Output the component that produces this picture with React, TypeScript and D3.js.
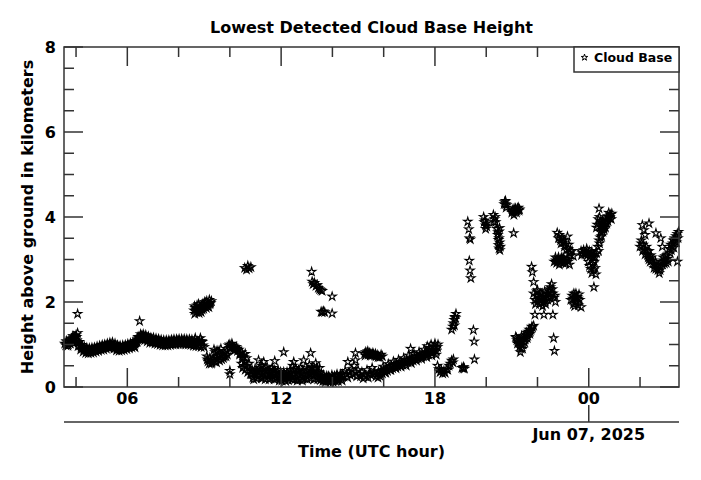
import React from 'react';
import * as d3 from 'd3';

type Pt = [number, number]; // [hour UTC since Jun 06 00:00, height km]

const lowMorning: Pt[] = [
  [3.56,1.02],[3.6,0.98],[3.65,1.05],[3.7,1.0],[3.75,1.03],[3.8,1.08],[3.85,1.12],[3.88,1.2],[3.92,1.05],[3.95,1.15],
  [4.0,1.22],[4.03,1.1],[4.06,1.27],[4.06,1.72],[4.1,1.05],[4.15,0.98],[4.2,0.95],[4.25,0.93],[4.3,0.9],[4.35,0.88],
  [4.4,0.87],[4.45,0.86],[4.5,0.85],[4.55,0.86],[4.6,0.86],[4.65,0.87],[4.7,0.88],[4.75,0.88],[4.8,0.89],[4.85,0.9],
  [4.9,0.91],[4.95,0.92],[5.0,0.93],[5.05,0.93],[5.1,0.95],[5.15,0.94],[5.2,0.96],[5.25,0.97],[5.3,0.98],[5.35,0.99],
  [5.4,1.0],[5.45,0.98],[5.5,0.96],[5.55,0.93],[5.6,0.92],[5.65,0.91],[5.7,0.92],[5.75,0.9],[5.8,0.92],[5.85,0.93],
  [5.9,0.93],[5.95,0.94],[6.0,0.95],[6.05,0.96],[6.1,0.97],[6.15,0.98],[6.2,0.99],[6.25,0.98],[6.3,0.93],[6.3,1.02],
  [6.35,1.08],[6.4,1.12],[6.45,1.15],[6.48,1.55],[6.5,1.18],[6.55,1.2],[6.6,1.18],[6.65,1.2],[6.7,1.16],[6.75,1.14],
  [6.8,1.13],[6.85,1.12],[6.9,1.1],[6.95,1.12],[7.0,1.1],[7.05,1.08],[7.1,1.09],[7.15,1.07],[7.2,1.08],[7.25,1.06],
  [7.3,1.05],[7.35,1.04],[7.4,1.05],[7.45,1.03],[7.5,1.04],[7.55,1.05],[7.6,1.04],[7.65,1.06],[7.7,1.05],[7.75,1.07],
  [7.8,1.06],[7.85,1.07],[7.9,1.06],[7.95,1.08],[8.0,1.07],[8.05,1.06],[8.1,1.08],[8.15,1.07],[8.2,1.06],[8.25,1.08],
  [8.3,1.06],[8.35,1.07],[8.4,1.05],[8.45,1.06],[8.5,1.04],[8.55,1.05],[8.6,1.02],[8.65,1.15],[8.7,1.0],[8.75,1.05],
  [8.8,1.02],[8.85,1.15],[8.9,1.08],[8.95,0.98],[9.0,0.94],
  [9.1,0.72],[9.15,0.6],[9.2,0.55],[9.25,0.62],[9.3,0.58],[9.35,0.65],[9.38,0.88],[9.4,0.6],[9.45,0.7],[9.5,0.66],
  [9.5,0.85],[9.55,0.72],[9.6,0.78],[9.6,0.62],[9.65,0.9],[9.7,0.75],[9.75,0.68],[9.8,0.8],[9.85,0.72],[9.9,0.76],
  [10.0,0.3],[10.0,0.38],
  [9.95,0.98],[10.0,1.0],[10.05,0.95],[10.1,0.97],[10.15,0.92],[10.2,0.9],[10.25,0.94],[10.3,0.85],[10.35,0.88],[10.4,0.8],
  [10.45,0.82],[10.5,0.75],[10.55,0.7],[10.6,0.78],[10.65,0.68],
  [10.45,0.55],[10.5,0.45],[10.55,0.5],[10.6,0.4],[10.7,0.35],[10.75,0.55],[10.8,0.3],
];

const lowMorningDense: Pt[] = [
  [3.62,1.08],[3.68,0.97],[3.72,1.09],[3.78,1.02],[3.82,1.14],[3.88,1.04],[3.92,1.16],[3.98,1.06],[4.02,1.18],[4.08,0.96],
  [4.12,1.06],[4.18,0.88],[4.22,0.99],[4.28,0.83],[4.32,0.95],[4.38,0.8],[4.42,0.92],[4.48,0.79],[4.52,0.91],[4.58,0.8],
  [4.62,0.92],[4.68,0.81],[4.72,0.93],[4.78,0.83],[4.82,0.95],[4.88,0.85],[4.92,0.97],[4.98,0.87],[5.02,0.99],[5.08,0.88],
  [5.12,1.0],[5.18,0.9],[5.22,1.02],[5.28,0.92],[5.32,1.04],[5.38,0.93],[5.42,1.05],[5.48,0.9],[5.52,1.02],[5.58,0.86],
  [5.62,0.98],[5.68,0.85],[5.72,0.97],[5.78,0.86],[5.82,0.98],[5.88,0.87],[5.92,0.99],[5.98,0.89],[6.02,1.01],[6.08,0.91],
  [6.12,1.03],[6.18,0.93],[6.22,1.05],[6.28,0.96],[6.32,1.08],[6.38,1.06],[6.42,1.18],[6.48,1.12],[6.52,1.24],[6.58,1.12],
  [6.62,1.24],[6.68,1.1],[6.72,1.22],[6.78,1.07],[6.82,1.19],[6.88,1.04],[6.92,1.16],[6.98,1.04],[7.02,1.16],[7.08,1.02],
  [7.12,1.14],[7.18,1.01],[7.22,1.13],[7.28,0.99],[7.32,1.11],[7.38,0.98],[7.42,1.1],[7.48,0.98],[7.52,1.1],[7.58,0.98],
  [7.62,1.1],[7.68,0.99],[7.72,1.11],[7.78,1.0],[7.82,1.12],[7.88,1.0],[7.92,1.12],[7.98,1.01],[8.02,1.13],[8.08,1.01],
  [8.12,1.13],[8.18,1.01],[8.22,1.13],[8.28,1.0],[8.32,1.12],[8.38,1.0],[8.42,1.12],[8.48,0.99],[8.52,1.11],[8.58,0.97],
  [8.62,1.09],[8.68,0.96],[8.72,1.08],[8.78,0.96],[8.82,1.08],[8.88,0.94],[8.92,1.06],
  [9.12,0.65],[9.22,0.68],[9.28,0.55],[9.42,0.82],[9.48,0.58],[9.58,0.85],[9.68,0.65],[9.78,0.72],[9.88,0.85],[9.98,0.92],
  [10.08,1.02],[10.18,0.86],[10.28,0.9],[10.38,0.76],[10.48,0.68],[10.58,0.6],[10.68,0.5],[10.78,0.4],
];

const upperMorning: Pt[] = [
  [8.6,1.8],[8.63,1.72],[8.65,1.86],[8.7,1.76],[8.72,1.92],[8.75,1.82],[8.8,1.74],[8.82,1.88],[8.85,1.8],[8.9,1.9],
  [8.95,1.96],[8.98,1.84],[9.0,1.9],[9.05,1.98],[9.08,1.86],[9.1,2.02],[9.15,1.95],[9.2,2.05],[9.25,1.98],[9.18,1.88],
  [8.62,1.9],[8.68,1.82],[8.78,1.95],[8.88,1.76],[8.92,1.82],[9.02,2.0],[9.12,1.9],[9.22,1.95],[9.28,2.02],
  [10.58,2.8],[10.65,2.76],[10.7,2.85],[10.75,2.79],[10.82,2.82],
  [13.19,2.71],[13.21,2.48],[13.25,2.42],[13.3,2.45],[13.36,2.38],[13.41,2.4],[13.45,2.33],[13.5,2.3],[13.55,2.28],[13.6,2.26],
  [13.99,2.13],[13.56,1.77],[13.6,1.76],[13.65,1.78],[13.7,1.76],[13.99,1.73],
];

const lowAfternoon: Pt[] = [
  [10.85,0.3],[10.9,0.22],[10.95,0.35],[11.0,0.28],[11.05,0.4],[11.1,0.25],[11.12,0.63],[11.15,0.45],[11.2,0.3],[11.25,0.5],
  [11.3,0.22],[11.32,0.59],[11.35,0.42],[11.4,0.3],[11.45,0.48],[11.5,0.25],[11.55,0.38],[11.6,0.2],[11.65,0.45],[11.7,0.3],
  [11.75,0.61],[11.75,0.4],[11.8,0.22],[11.85,0.35],[11.9,0.28],[11.95,0.2],[12.0,0.3],[12.05,0.22],[12.1,0.82],[12.1,0.35],
  [12.15,0.18],[12.2,0.28],[12.25,0.22],[12.3,0.3],[12.35,0.4],[12.4,0.25],[12.45,0.5],[12.49,0.59],[12.5,0.3],[12.55,0.42],
  [12.6,0.2],[12.65,0.35],[12.7,0.28],[12.75,0.45],[12.8,0.22],[12.85,0.38],[12.88,0.63],[12.9,0.3],[12.95,0.48],[13.0,0.25],
  [13.05,0.4],[13.1,0.52],[13.15,0.8],[13.15,0.35],[13.2,0.45],[13.25,0.28],[13.3,0.42],[13.35,0.56],[13.35,0.22],[13.4,0.35],
  [13.45,0.3],[13.5,0.45],[13.55,0.25],
  [13.6,0.2],[13.65,0.28],[13.7,0.15],[13.75,0.22],[13.8,0.18],[13.85,0.25],[13.9,0.15],[13.95,0.2],[14.0,0.22],[14.05,0.16],
  [14.1,0.2],[14.15,0.25],[14.2,0.18],[14.25,0.22],[14.3,0.28],[14.35,0.2],
  [14.4,0.3],[14.45,0.25],[14.5,0.38],[14.55,0.3],[14.6,0.59],[14.6,0.22],[14.65,0.35],[14.7,0.28],[14.75,0.42],[14.8,0.3],
  [14.85,0.5],[14.9,0.63],[14.9,0.8],[14.92,0.35],[14.95,0.25],[15.0,0.4],[15.05,0.3],
  [15.1,0.25],[15.15,0.35],[15.2,0.2],[15.25,0.3],[15.3,0.25],[15.35,0.4],[15.4,0.22],[15.45,0.32],[15.5,0.28],[15.55,0.45],
  [15.6,0.3],[15.65,0.35],[15.7,0.25],
  [15.25,0.78],[15.3,0.82],[15.35,0.8],[15.4,0.76],[15.45,0.8],[15.5,0.78],[15.55,0.75],[15.6,0.76],[15.65,0.74],[15.7,0.72],
  [15.75,0.75],[15.8,0.72],[15.85,0.7],[15.95,0.72],
  [15.75,0.3],[15.8,0.36],[15.85,0.26],[15.9,0.38],[15.95,0.32],[16.0,0.4],[16.05,0.34],[16.1,0.44],[16.15,0.38],[16.2,0.46],
  [16.25,0.4],[16.3,0.5],[16.35,0.44],[16.4,0.52],[16.45,0.46],[16.5,0.54],[16.55,0.48],[16.6,0.56],[16.65,0.5],[16.7,0.58],
  [16.75,0.52],[16.8,0.6],[16.85,0.55],[16.9,0.63],[16.95,0.58],[17.0,0.65],[17.05,0.6],[17.05,0.9],[17.1,0.66],[17.15,0.62],
  [17.2,0.7],[17.25,0.65],[17.3,0.72],[17.35,0.67],[17.4,0.74],[17.45,0.7],[17.5,0.76],[17.55,0.72],[17.6,0.8],[17.65,0.74],
  [17.7,0.96],[17.7,0.8],[17.75,0.76],[17.8,0.84],[17.85,1.0],[17.85,0.8],[17.9,0.86],[17.95,0.82],[18.0,1.02],[18.0,0.88],
  [18.05,0.84],[18.1,0.94],[18.12,1.0],
  [18.1,0.5],[18.15,0.42],[18.2,0.35],[18.25,0.4],[18.3,0.32],[18.35,0.38],[18.4,0.33],[18.45,0.42],[18.5,0.4],[18.55,0.5],
  [18.6,0.55],[18.65,0.62],[18.7,0.58],[18.72,0.65],
];

const lowAfternoonDense: Pt[] = [
  [10.88,0.38],[10.93,0.18],[10.98,0.42],[11.03,0.2],[11.08,0.36],[11.13,0.28],[11.18,0.4],[11.23,0.2],[11.28,0.35],[11.38,0.18],
  [11.43,0.36],[11.48,0.4],[11.53,0.18],[11.58,0.32],[11.63,0.26],[11.68,0.4],[11.73,0.18],[11.78,0.32],[11.83,0.2],[11.88,0.4],
  [11.93,0.15],[11.98,0.35],[12.03,0.15],[12.08,0.28],[12.13,0.3],[12.18,0.14],[12.23,0.35],[12.28,0.16],[12.33,0.22],[12.38,0.32],
  [12.43,0.18],[12.48,0.4],[12.53,0.18],[12.58,0.33],[12.63,0.15],[12.68,0.4],[12.73,0.18],[12.78,0.32],[12.83,0.15],[12.93,0.2],
  [12.98,0.38],[13.03,0.18],[13.08,0.32],[13.13,0.2],[13.18,0.3],[13.23,0.36],[13.28,0.18],[13.33,0.3],[13.38,0.45],[13.43,0.18],
  [13.48,0.35],[13.53,0.16],
  [13.63,0.14],[13.68,0.24],[13.73,0.12],[13.78,0.26],[13.83,0.14],[13.88,0.22],[13.93,0.12],[13.98,0.28],[14.03,0.12],[14.08,0.26],
  [14.13,0.14],[14.18,0.3],[14.23,0.14],[14.28,0.2],[14.33,0.3],[14.38,0.15],
  [15.28,0.74],[15.38,0.84],[15.48,0.74],[15.58,0.8],[15.68,0.78],[15.78,0.7],[15.9,0.76],
  [15.78,0.22],[15.88,0.3],[15.98,0.48],[16.08,0.34],[16.18,0.54],[16.28,0.4],[16.38,0.6],[16.48,0.44],[16.58,0.64],[16.68,0.48],
  [16.78,0.68],[16.88,0.5],[16.98,0.74],[17.08,0.56],[17.18,0.78],[17.28,0.62],[17.38,0.82],[17.48,0.66],[17.58,0.88],[17.68,0.7],
  [17.78,0.92],[17.88,0.74],[17.98,0.95],[18.05,0.76],
];

const eveningBreakup: Pt[] = [
  [18.65,1.35],[18.7,1.42],[18.72,1.5],[18.75,1.58],[18.78,1.65],[18.8,1.62],[18.82,1.72],[18.76,1.45],
  [19.05,0.45],[19.1,0.44],[19.12,0.47],[19.15,0.43],
  [19.5,1.34],[19.53,1.07],[19.54,0.65],
  [21.15,1.18],[21.2,1.1],[21.25,1.05],[21.3,0.95],[21.33,0.82],[21.35,1.0],[21.4,1.08],[21.42,0.9],[21.45,1.15],[21.5,1.05],
  [21.55,1.22],[21.6,1.15],[21.65,1.3],[21.7,1.25],[21.75,1.35],[21.8,1.4],[21.85,1.44],[21.28,1.12],[21.38,1.2],
  [21.18,1.15],[21.22,1.02],[21.32,1.05],[21.36,0.9],[21.44,1.0],[21.48,1.2],[21.52,1.12],[21.58,1.28],[21.62,1.2],[21.68,1.35],
  [21.72,1.3],[21.78,1.42],
];

const eveningHigh: Pt[] = [
  [19.28,3.89],[19.32,3.71],[19.35,3.5],[19.38,3.47],[19.34,2.97],[19.37,2.74],[19.4,2.56],
  [19.9,4.0],[19.92,3.88],[19.98,3.8],[19.98,3.72],[20.02,3.78],[20.28,4.05],[20.32,3.95],[20.37,3.88],[20.45,3.58],
  [20.48,3.46],[20.5,3.66],[20.52,3.74],[20.48,3.34],[20.5,3.26],[20.53,3.22],[20.52,3.4],
  [19.95,3.92],[20.0,3.85],[20.3,3.88],[20.35,4.0],[20.42,3.72],[20.46,3.64],[20.5,3.5],[20.55,3.3],
  [20.7,4.3],[20.75,4.38],[20.8,4.28],[20.78,4.22],[20.72,4.35],[20.76,4.3],
  [21.0,4.1],[21.05,4.18],[21.1,4.12],[21.15,4.2],[21.2,4.15],[21.25,4.22],[21.3,4.18],[21.08,4.05],[21.07,3.62],
  [21.02,4.15],[21.12,4.2],[21.18,4.1],[21.22,4.2],[21.28,4.15],
];

const nightMixed: Pt[] = [
  [21.77,2.83],[21.8,2.7],[21.85,2.47],[21.85,2.2],[21.9,2.05],[21.95,2.15],[22.0,2.0],[22.05,2.1],[22.1,2.2],[22.15,1.98],
  [22.2,2.08],[22.25,2.15],[22.3,2.02],[22.35,2.12],[22.4,2.05],[22.45,2.25],[22.5,2.35],[22.5,2.1],[22.55,2.42],[22.6,2.2],
  [22.65,2.1],[22.7,2.0],[22.2,1.9],[22.0,2.28],[21.9,1.7],[22.25,1.7],[22.6,1.7],[22.63,1.15],[22.66,0.85],
  [21.92,1.95],[21.97,2.25],[22.02,2.15],[22.08,1.95],[22.12,2.1],[22.18,2.2],[22.22,2.0],[22.28,2.25],[22.32,1.95],[22.38,2.2],
  [22.42,2.1],[22.48,2.3],[22.53,2.2],[22.58,2.3],[22.68,2.15],
  [22.65,2.95],[22.7,3.05],[22.75,2.92],[22.8,3.0],[22.85,2.88],[22.9,2.98],[22.95,3.05],[23.0,2.92],[23.05,2.98],[23.1,2.9],
  [23.15,3.0],[23.2,2.95],[23.25,2.88],
  [22.72,2.98],[22.78,2.95],[22.82,3.05],[22.88,2.94],[22.92,3.02],[22.98,2.97],[23.02,3.02],[23.08,2.95],
  [22.77,3.63],[22.85,3.58],[22.9,3.45],[22.95,3.5],[23.0,3.4],[23.05,3.3],[23.1,3.35],[23.17,3.54],[23.2,3.25],[23.25,3.15],
  [23.3,3.1],[23.35,3.2],[23.4,3.08],
  [22.82,3.5],[22.92,3.38],[23.02,3.45],[23.12,3.22],[23.22,3.35],[23.28,3.2],
  [23.3,2.05],[23.35,2.15],[23.4,1.95],[23.45,2.1],[23.5,2.2],[23.52,2.0],[23.55,2.12],[23.6,1.92],[23.65,2.05],[23.7,1.88],
  [23.45,1.9],[23.62,2.18],[23.38,2.08],[23.48,2.02],[23.58,2.08],[23.42,2.2],
  [23.7,3.2],[23.75,3.15],[23.8,3.22],[23.85,3.12],[23.9,3.18],[23.95,3.1],[24.0,3.15],[24.05,3.08],[24.1,3.12],[24.15,3.05],
  [24.2,3.1],[24.3,3.15],
  [23.72,3.1],[23.82,3.15],[23.92,3.25],[24.02,3.2],[24.12,3.18],[24.25,3.05],
  [23.98,2.95],[24.03,2.85],[24.08,2.78],[24.12,2.68],[24.15,2.9],[24.18,2.75],[24.22,2.95],[24.25,2.8],[24.28,2.65],
  [24.2,2.35],
  [24.35,3.3],[24.4,3.45],[24.42,3.38],[24.45,3.52],[24.5,3.55],[24.38,3.2],
  [24.3,3.75],[24.33,3.82],[24.37,3.95],[24.4,4.2],[24.42,4.0],[24.45,3.9],[24.48,3.78],[24.5,3.7],[24.52,3.85],[24.55,3.65],
  [24.58,3.75],[24.62,3.8],[24.66,3.9],[24.7,3.95],[24.74,4.02],[24.78,4.1],[24.8,3.98],[24.85,4.05],[24.9,4.08],
  [24.45,3.65],[24.5,3.82],[24.55,3.9],[24.6,3.7],[24.65,3.75],[24.7,3.85],[24.75,3.9],[24.82,4.0],[24.88,3.95],
];

const earlyJun07: Pt[] = [
  [26.09,3.81],[26.35,3.85],[26.15,3.69],[26.2,3.58],
  [26.0,3.3],[26.05,3.38],[26.1,3.2],[26.15,3.25],[26.2,3.12],[26.25,3.3],[26.3,3.1],[26.35,3.2],
  [26.62,3.62],[26.81,3.5],[26.87,3.3],
  [26.35,3.0],[26.4,2.95],[26.45,3.05],[26.5,2.9],[26.55,2.8],[26.6,2.95],[26.65,2.85],[26.7,2.75],[26.75,2.68],[26.8,2.82],
  [26.85,2.95],[26.9,3.05],[26.95,2.9],[27.0,3.0],[27.05,3.1],[27.1,2.95],
  [27.15,3.25],[27.2,3.35],[27.25,3.3],[27.3,3.45],[27.35,3.5],[27.4,3.55],[27.45,3.6],[27.5,3.65],[27.42,3.4],[27.46,2.95],
  [26.05,3.45],[26.12,3.35],[26.22,3.22],[26.28,3.2],[26.32,3.05],[26.42,3.1],[26.48,2.98],[26.58,2.88],[26.62,2.78],[26.72,2.85],
  [26.78,2.75],[26.88,2.88],[26.92,2.98],[26.98,3.08],[27.02,2.92],[27.08,3.02],[27.18,3.15],[27.22,3.22],[27.28,3.38],[27.32,3.28],
  [27.38,3.42],[27.48,3.5],
];

const xMajorTicks = [6, 12, 18, 24];
const xMajorLabels = ['06', '12', '18', '00'];
const xMinorTicks = [4, 8, 10, 14, 16, 20, 22, 26];
const yMajorTicks = [0, 2, 4, 6, 8];
const yMinorTicks = [0.5, 1, 1.5, 2.5, 3, 3.5, 4.5, 5, 5.5, 6.5, 7, 7.5];
const dateTickHour = 24;
const dateLabel = 'Jun 07, 2025';
const titleText = 'Lowest Detected Cloud Base Height';
const xTitle = 'Time (UTC hour)';
const yTitle = 'Height above ground in kilometers';
const legendLabel = 'Cloud Base';

const allPoints: Pt[] = [
  ...lowMorning, ...lowMorningDense, ...upperMorning, ...lowAfternoon, ...lowAfternoonDense,
  ...eveningBreakup, ...eveningHigh, ...nightMixed, ...earlyJun07,
];

function starPath(R: number, r: number): string {
  const pts: string[] = [];
  for (let i = 0; i < 10; i++) {
    const a = -Math.PI / 2 + (i * Math.PI) / 5;
    const rad = i % 2 === 0 ? R : r;
    pts.push(`${(rad * Math.cos(a)).toFixed(2)},${(rad * Math.sin(a)).toFixed(2)}`);
  }
  return 'M' + pts.join('L') + 'Z';
}

export default function App() {
  const W = 701, H = 480;
  const L = 64, R = 679, T = 47, B = 387;
  const x = d3.scaleLinear().domain([3.53, 27.52]).range([L, R]);
  const y = d3.scaleLinear().domain([0, 8]).range([B, T]);
  const axisColor = '#333';
  const font = "'DejaVu Sans', sans-serif";
  const majorLen = 19, minorLen = 10;
  const star = starPath(4.4, 1.6);
  const legendStar = starPath(3.4, 1.3);
  const dateAxisY = 422;

  return (
    <svg width={W} height={H} style={{ position: 'absolute', left: 0, top: 0, background: '#fff' }}
      fontFamily={font} fontWeight="bold">
      <rect x={0} y={0} width={W} height={H} fill="#fff" />
      <text x={(L + R) / 2} y={33} textAnchor="middle" fontSize={16}>{titleText}</text>

      <g fill="none" stroke="#000" strokeWidth={1.1}>
        {allPoints.map((p, i) => (
          <path key={i} d={star} transform={`translate(${x(p[0]).toFixed(2)},${y(p[1]).toFixed(2)})`} />
        ))}
      </g>

      <rect x={L} y={T} width={R - L} height={B - T} fill="none" stroke={axisColor} strokeWidth={1.5} />

      <g stroke={axisColor} strokeWidth={1.5}>
        {xMajorTicks.map((t) => (
          <g key={'xM' + t}>
            <line x1={x(t)} x2={x(t)} y1={B} y2={B - majorLen} />
            <line x1={x(t)} x2={x(t)} y1={T} y2={T + majorLen} />
          </g>
        ))}
        {xMinorTicks.map((t) => (
          <g key={'xm' + t}>
            <line x1={x(t)} x2={x(t)} y1={B} y2={B - minorLen} />
            <line x1={x(t)} x2={x(t)} y1={T} y2={T + minorLen} />
          </g>
        ))}
        {yMajorTicks.map((t) => (
          <g key={'yM' + t}>
            <line x1={L} x2={L + majorLen} y1={y(t)} y2={y(t)} />
            <line x1={R} x2={R - majorLen} y1={y(t)} y2={y(t)} />
          </g>
        ))}
        {yMinorTicks.map((t) => (
          <g key={'ym' + t}>
            <line x1={L} x2={L + minorLen} y1={y(t)} y2={y(t)} />
            <line x1={R} x2={R - minorLen} y1={y(t)} y2={y(t)} />
          </g>
        ))}
      </g>

      <g fontSize={16} fill="#000">
        {xMajorTicks.map((t, i) => (
          <text key={'xl' + t} x={x(t)} y={404} textAnchor="middle">{xMajorLabels[i]}</text>
        ))}
        {yMajorTicks.map((t) => (
          <text key={'yl' + t} x={56} y={y(t) + 6} textAnchor="end">{t}</text>
        ))}
      </g>

      <line x1={L} x2={R} y1={dateAxisY} y2={dateAxisY} stroke={axisColor} strokeWidth={1.5} />
      <line x1={x(dateTickHour)} x2={x(dateTickHour)} y1={dateAxisY} y2={dateAxisY - 17} stroke={axisColor} strokeWidth={1.5} />
      <text x={x(dateTickHour)} y={440} textAnchor="middle" fontSize={16}>{dateLabel}</text>

      <text x={(L + R) / 2} y={457} textAnchor="middle" fontSize={16}>{xTitle}</text>
      <text transform={`translate(33,${(T + B) / 2}) rotate(-90)`} textAnchor="middle" fontSize={16}>{yTitle}</text>

      <rect x={574} y={T} width={R - 574} height={25} fill="#fff" stroke={axisColor} strokeWidth={1.5} />
      <path d={legendStar} transform="translate(584.5,57.5)" fill="none" stroke="#000" strokeWidth={1} />
      <text x={594} y={62} fontSize={12.5}>{legendLabel}</text>
    </svg>
  );
}
